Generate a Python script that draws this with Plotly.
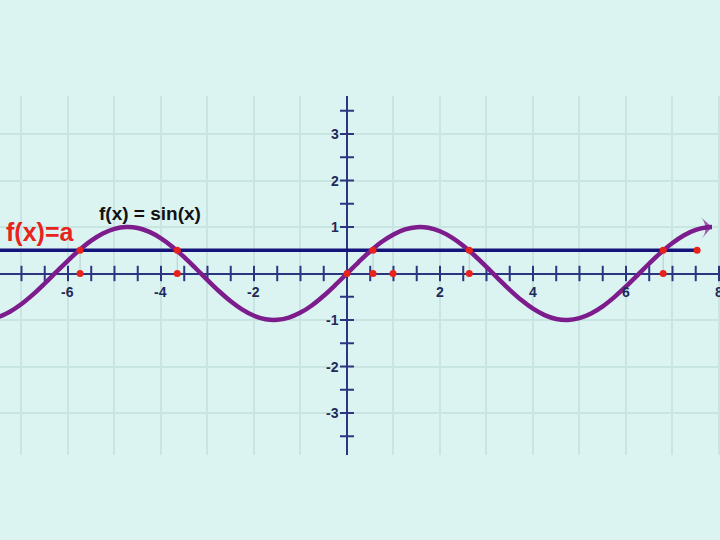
import plotly.graph_objects as go

# sin(x), step 0.25
curve_x = [i * 0.25 for i in range(-30, 32)] + [7.85]
curve_y = [
    -0.938, -0.823, -0.657, -0.450, -0.215, 0.033, 0.279, 0.508, 0.706, 0.859,
    0.959, 0.999, 0.978, 0.895, 0.757, 0.572, 0.351, 0.108, -0.141, -0.382,
    -0.598, -0.778, -0.909, -0.984, -0.997, -0.949, -0.841, -0.682, -0.479, -0.247,
    0.0, 0.247, 0.479, 0.682, 0.841, 0.949, 0.997, 0.984, 0.909, 0.778,
    0.598, 0.382, 0.141, -0.108, -0.351, -0.572, -0.757, -0.895, -0.978, -0.999,
    -0.959, -0.859, -0.706, -0.508, -0.279, -0.033, 0.215, 0.450, 0.657, 0.823,
    0.938, 0.994, 1.0,
]

a_value = 0.5
a_x = [-7.5, 7.53]

cross_x = [-5.74, -3.65, 0.56, 2.63, 6.80]
axis_dots_x = [-5.74, -3.65, 0.0, 0.56, 0.99, 2.63, 6.80]

xtick_vals = [v * 0.5 for v in range(-14, 17) if v != 0]
ytick_vals = [v * 0.5 for v in range(-7, 8) if v != 0]
xlabels = [-6, -4, -2, 2, 4, 6, 8]
ylabels = [3, 2, 1, -1, -2, -3]

NAVY = "#2b3580"
LINE_A = "#14147a"
PURPLE = "#7d1c8c"
RED = "#e8231c"
BG = "#dcf4f1"

fig = go.Figure()

# faint drop lines from crossings to the axis
drop_x, drop_y = [], []
for cx in cross_x:
    drop_x += [cx, cx, None]
    drop_y += [a_value, 0, None]
fig.add_trace(go.Scatter(x=drop_x, y=drop_y, mode="lines",
                         line=dict(color="rgba(140,150,160,0.45)", width=1)))

# axis ticks drawn on the zero lines
fig.add_trace(go.Scatter(x=xtick_vals, y=[0] * len(xtick_vals), mode="markers",
                         marker=dict(symbol="line-ns", size=11,
                                     line=dict(color=NAVY, width=2))))
fig.add_trace(go.Scatter(x=[0] * len(ytick_vals), y=ytick_vals, mode="markers",
                         marker=dict(symbol="line-ew", size=10,
                                     line=dict(color=NAVY, width=2))))

# f(x)=a
fig.add_trace(go.Scatter(x=a_x, y=[a_value] * len(a_x), mode="lines",
                         line=dict(color=LINE_A, width=3.5)))

# sin curve with arrow at the end
n = len(curve_x)
fig.add_trace(go.Scatter(
    x=curve_x, y=curve_y, mode="lines+markers",
    line=dict(color=PURPLE, width=4.5, shape="spline"),
    marker=dict(symbol="arrow-wide", angleref="previous",
                size=[0] * (n - 1) + [16], color=PURPLE,
                line=dict(width=0)),
))

# red points
fig.add_trace(go.Scatter(x=cross_x + [a_x[-1]], y=[a_value] * (len(cross_x) + 1),
                         mode="markers", marker=dict(color=RED, size=7)))
fig.add_trace(go.Scatter(x=axis_dots_x, y=[0] * len(axis_dots_x),
                         mode="markers", marker=dict(color=RED, size=7)))

for v in xlabels:
    fig.add_annotation(x=v, y=0, yshift=-18, showarrow=False,
                       text=f"<b>{v}</b>",
                       font=dict(size=14, color="#1e2a5a", family="Liberation Sans"))
for v in ylabels:
    fig.add_annotation(x=0, y=v, xshift=-6, xanchor="right", showarrow=False,
                       text=f"<b>{v}</b>",
                       font=dict(size=14, color="#1e2a5a", family="Liberation Sans"))

fig.add_annotation(xref="paper", yref="paper", x=0.208, y=0.674,
                   xanchor="center", yanchor="middle", showarrow=False,
                   text="<b>f(x) = sin(x)</b>",
                   font=dict(size=19, color="#111111", family="Liberation Sans"))
fig.add_annotation(xref="paper", yref="paper", x=0.056, y=0.621,
                   xanchor="center", yanchor="middle", showarrow=False,
                   text="<b>f(x)=a</b>",
                   font=dict(size=25, color=RED, family="Liberation Sans"))

fig.update_layout(
    width=720, height=540,
    paper_bgcolor=BG, plot_bgcolor=BG,
    showlegend=False,
    margin=dict(l=0, r=0, t=96, b=85, autoexpand=False),
    xaxis=dict(range=[-7.462, 8.022], dtick=1, tick0=0,
               showgrid=True, gridcolor="#c9e5e2", gridwidth=2,
               zeroline=True, zerolinecolor=NAVY, zerolinewidth=2,
               showticklabels=False, ticks=""),
    yaxis=dict(range=[-3.903, 3.817], dtick=1, tick0=0,
               showgrid=True, gridcolor="#c9e5e2", gridwidth=2,
               zeroline=True, zerolinecolor=NAVY, zerolinewidth=2,
               showticklabels=False, ticks=""),
)

fig.write_html("out.html", config={"displayModeBar": False},
               post_script="document.body.style.margin='0';"
                           "document.body.style.background='#dcf4f1';")
